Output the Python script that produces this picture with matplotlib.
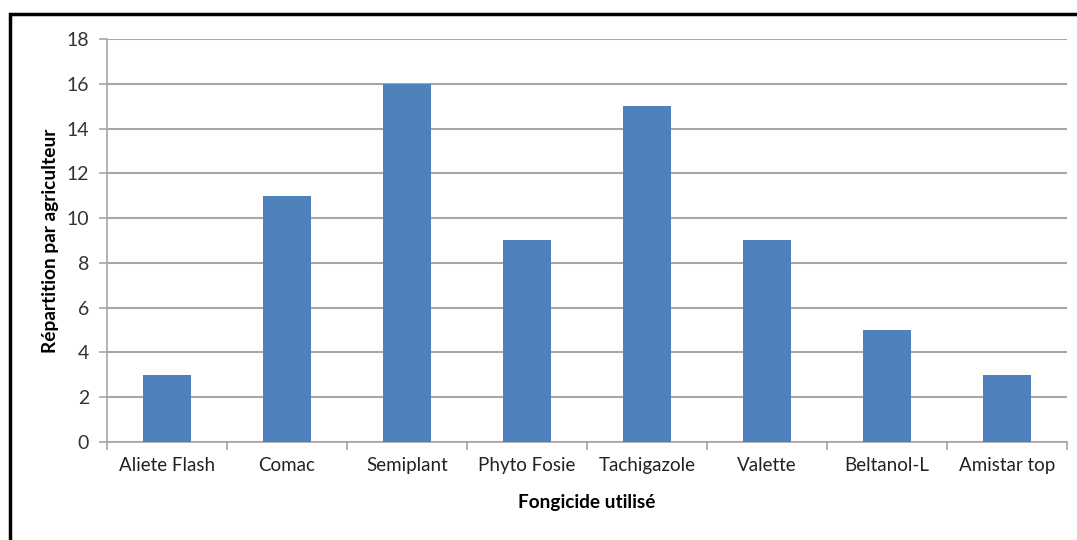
import matplotlib
matplotlib.use("Agg")
import matplotlib.pyplot as plt
from matplotlib.patches import Rectangle

fongicides = ["Aliete Flash", "Comac", "Semiplant", "Phyto Fosie",
              "Tachigazole", "Valette", "Beltanol-L", "Amistar top"]
repartition = [3, 11, 16, 9, 15, 9, 5, 3]
yticks = [0, 2, 4, 6, 8, 10, 12, 14, 16, 18]

plt.rcParams['font.family'] = ['Lato', 'DejaVu Sans']

fig = plt.figure(figsize=(10.77, 5.40), dpi=100)
ax = fig.add_axes([0.0994, 0.1815, 0.8913, 0.7463])

x = list(range(len(fongicides)))
ax.bar(x, repartition, width=0.4, color="#4F81BD", zorder=3)

ax.set_xlim(-0.5, len(fongicides) - 0.5)
ax.set_ylim(0, 18)
ax.set_yticks(yticks)
ax.set_yticklabels([str(v) for v in yticks], fontsize=14, color="#333333")
ax.yaxis.grid(True, color="#A6A6A6", linewidth=1.5, zorder=0)

# category labels in the middle, tick marks between categories
ax.set_xticks(x)
ax.set_xticklabels(fongicides, fontsize=13.5, color="#222222")
ax.tick_params(axis="x", which="major", length=0, pad=11)
ax.set_xticks([i - 0.5 for i in range(len(fongicides) + 1)], minor=True)
ax.tick_params(axis="x", which="minor", length=6, width=1.2, color="#A6A6A6")
ax.tick_params(axis="y", length=6, width=1.2, color="#A6A6A6", pad=7)

for s in ["top", "right"]:
    ax.spines[s].set_visible(False)
ax.spines["left"].set_color("#A6A6A6")
ax.spines["bottom"].set_color("#A6A6A6")
ax.spines["left"].set_linewidth(1.2)
ax.spines["bottom"].set_linewidth(1.2)

ax.set_xlabel("Fongicide utilisé", fontsize=13.7, fontweight="bold", labelpad=14)
ax.set_ylabel("Répartition par agriculteur", fontsize=13.8, fontweight="bold", labelpad=5)

# black frame around the chart (right and bottom edges fall outside the image)
fig.patches.append(Rectangle((10 / 1077, -0.05), 1.1, 1 - 14 / 540 + 0.05,
                             transform=fig.transFigure, fill=False,
                             edgecolor="black", linewidth=2.5))

fig.savefig("out.png", dpi=100, facecolor="white")
